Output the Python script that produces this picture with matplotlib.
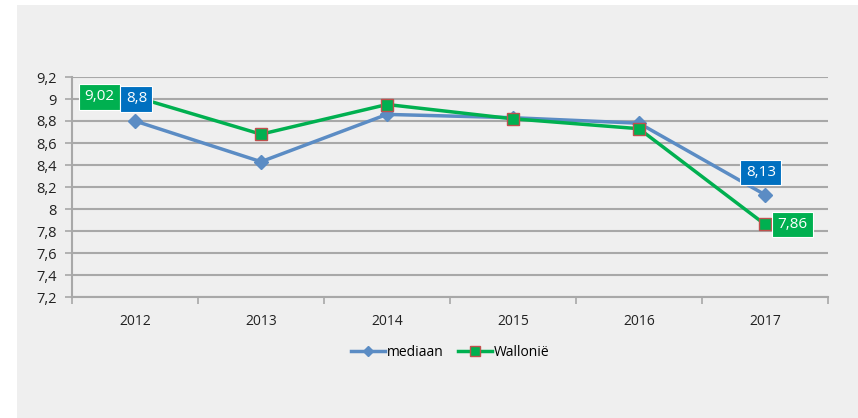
import matplotlib.pyplot as plt
from matplotlib.patches import Rectangle

# data
years = ["2012", "2013", "2014", "2015", "2016", "2017"]
mediaan = [8.80, 8.43, 8.86, 8.83, 8.78, 8.13]
wallonie = [9.02, 8.68, 8.95, 8.82, 8.73, 7.86]
yticks = [7.2, 7.4, 7.6, 7.8, 8.0, 8.2, 8.4, 8.6, 8.8, 9.0, 9.2]

BG = "#efefef"
BLUE = "#5b8cc4"
GREEN = "#00b050"
GRID = "#a8a8a8"

plt.rcParams['font.family'] = ['Open Sans', 'DejaVu Sans']

fig = plt.figure(figsize=(8.58, 4.18), dpi=100)
fig.patch.set_facecolor("white")
fig.patches.append(Rectangle((17 / 858, 0), 1, 413 / 418, transform=fig.transFigure,
                             facecolor=BG, edgecolor="none", zorder=-10))

ax = fig.add_axes([72 / 858, 1 - 297 / 418, 756 / 858, 220 / 418])
ax.set_facecolor(BG)
x = list(range(len(years)))

ax.plot(x, mediaan, color=BLUE, lw=2.5, marker="D", ms=7, mfc=BLUE, mec=BLUE,
        label="mediaan", zorder=3)
ax.plot(x, wallonie, color=GREEN, lw=2.5, marker="s", ms=9, mfc=GREEN, mec="#c0504d",
        mew=1, label="Wallonië", zorder=4)

ax.set_xlim(-0.5, len(years) - 0.5)
ax.set_ylim(7.2, 9.2)
ax.set_yticks(yticks)
ax.set_yticklabels([("%g" % v).replace(".", ",") for v in yticks], fontsize=10.5,
                   color="#222222")
ax.set_xticks(x)
ax.set_xticklabels(years, fontsize=10, color="#222222")
ax.set_xticks([i - 0.5 for i in range(len(years) + 1)], minor=True)
ax.tick_params(axis="x", which="major", length=0, pad=12)
ax.tick_params(axis="x", which="minor", length=5, color=GRID, width=1.2)
ax.tick_params(axis="y", length=5, color=GRID, width=1.2, pad=6)
ax.grid(axis="y", color=GRID, lw=1.5)
ax.set_axisbelow(True)
for s in ["top", "right"]:
    ax.spines[s].set_visible(False)
for s in ["left", "bottom"]:
    ax.spines[s].set_color(GRID)
    ax.spines[s].set_linewidth(1.5)

def label(xi, yi, txt, color, dx, dy, ha):
    ax.annotate(txt, (xi, yi), xytext=(dx, dy), textcoords="offset points",
                ha=ha, va="center", color="white", fontsize=11, zorder=6,
                bbox=dict(boxstyle="square,pad=0.35", fc=color, ec="white", lw=0.8))

label(0, wallonie[0], "9,02", GREEN, -15, 0, "right")
label(0, mediaan[0], "8,8", "#0070c0", 1, 16, "center")
label(5, mediaan[5], "8,13", "#0070c0", -3, 16, "center")
label(5, wallonie[5], "7,86", GREEN, 9, 0, "left")

ax.legend(loc="center", bbox_to_anchor=(0.5, -0.25), ncol=2, frameon=False,
          fontsize=10, handlelength=2.5, columnspacing=1.0, handletextpad=0.1,
          markerscale=0.8)

fig.savefig("out.png", dpi=100, facecolor=fig.get_facecolor())
